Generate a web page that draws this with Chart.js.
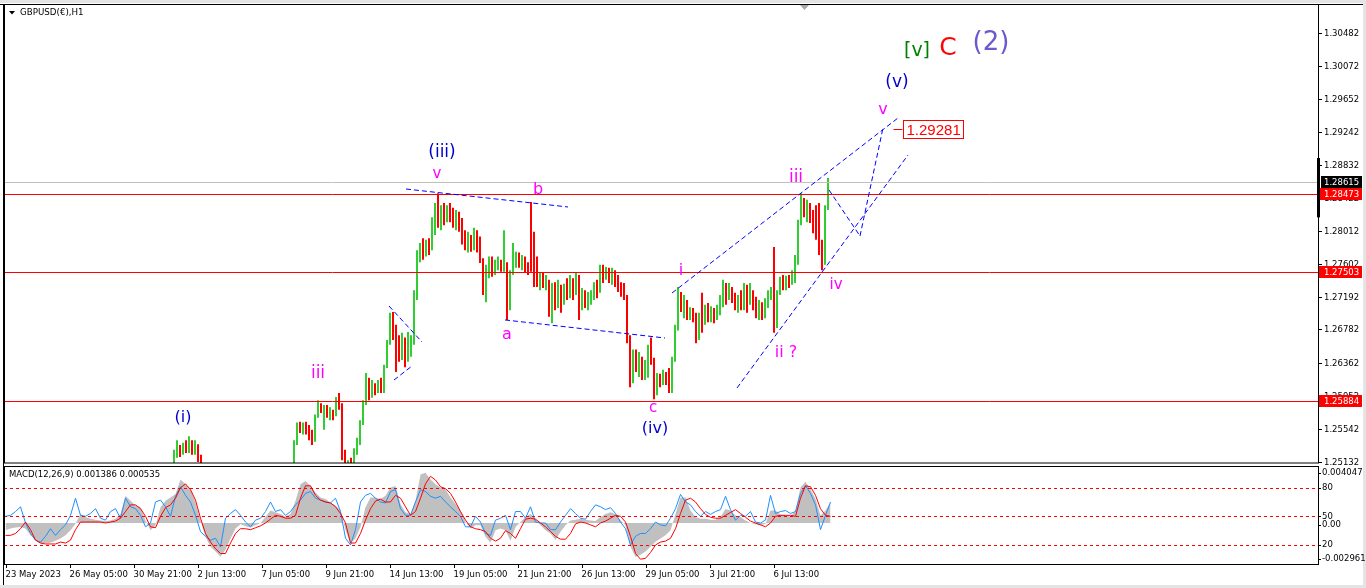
<!DOCTYPE html>
<html>
<head>
<meta charset="utf-8">
<script src="https://cdn.jsdelivr.net/npm/chart.js@4.4.0/dist/chart.umd.min.js"></script>
<style>
  html, body { margin: 0; padding: 0; background: #fff; }
  #wrap { position: relative; width: 1366px; height: 588px; overflow: hidden; }
  canvas { position: absolute; left: 0; }
  #price { top: 0; }
  #macd { top: 466px; }
</style>
</head>
<body>
<div id="wrap">
  <canvas id="price" width="1366" height="466"></canvas>
  <canvas id="macd" width="1366" height="122"></canvas>
</div>
<script>
// GBPUSD H1 - price in 3-hour groups, starting at group 56 (bar 168)
const firstGroup = 56;
const barsPerGroup = 3;
const N = null;

const highs = [
  1.2528,1.2540,1.2534,1.2537,1.2540,1.2545,1.2540,1.2540,1.2535,1.2522,
  N,N,N,N,N,N,N,N,N,N,N,N,N,N,N,N,N,N,N,N,N,N,N,N,N,N,N,N,N,N,
  1.2540,1.2562,1.2563,1.2562,1.2563,1.2559,1.2553,1.2572,1.2590,1.2586,
  1.2584,1.2584,1.2581,1.2578,1.2594,1.2599,1.2586,1.2528,1.2515,1.2518,
  1.2530,1.2543,1.2565,1.2590,1.2624,1.2618,1.2615,1.2611,1.2615,1.2618,
  1.2634,1.2665,1.2699,1.2700,1.2684,1.2671,1.2674,1.2668,1.2675,1.2671,
  1.2727,1.2777,1.2786,1.2792,1.2790,1.2792,1.2818,1.2836,1.2848,1.2833,
  1.2836,1.2833,1.2836,1.2830,1.2827,1.2825,1.2817,1.2802,1.2800,1.2796,
  1.2805,1.2802,1.2794,1.2767,1.2759,1.2769,1.2769,1.2765,1.2769,1.2765,
  1.2802,1.2762,1.2752,1.2786,1.2775,1.2774,1.2771,1.2769,1.2762,1.2837,
  1.2800,1.2769,1.2749,1.2749,1.2746,1.2740,1.2736,1.2737,1.2740,1.2734,
  1.2735,1.2742,1.2746,1.2742,1.2749,1.2746,1.2730,1.2727,1.2725,1.2727,
  1.2737,1.2740,1.2759,1.2759,1.2756,1.2755,1.2755,1.2752,1.2746,1.2737,
  1.2736,1.2721,1.2671,1.2653,1.2653,1.2650,1.2644,1.2640,1.2659,1.2668,
  1.2643,1.2624,1.2623,1.2628,1.2625,1.2630,1.2644,1.2684,1.2731,1.2725,
  1.2721,1.2715,1.2706,1.2705,1.2699,1.2699,1.2724,1.2709,1.2711,1.2707,
  1.2705,1.2709,1.2721,1.2740,1.2736,1.2736,1.2731,1.2724,1.2721,1.2727,
  1.2736,1.2734,1.2736,1.2727,1.2719,1.2715,1.2712,1.2717,1.2727,1.2731,
  1.2781,1.2727,1.2744,1.2746,1.2745,1.2746,1.2752,1.2771,1.2815,1.2848,
  1.2842,1.2840,1.2836,1.2827,1.2833,1.2836,1.2790,1.2833,1.2867
];
const lows = [
  1.2503,1.2518,1.2519,1.2522,1.2524,1.2524,1.2522,1.2522,1.2513,1.2497,
  N,N,N,N,N,N,N,N,N,N,N,N,N,N,N,N,N,N,N,N,N,N,N,N,N,N,N,N,N,N,
  1.2503,1.2534,1.2549,1.2547,1.2547,1.2540,1.2534,1.2538,1.2568,1.2574,
  1.2553,1.2568,1.2565,1.2565,1.2570,1.2578,1.2515,1.2503,1.2503,1.2503,
  1.2508,1.2522,1.2534,1.2559,1.2584,1.2590,1.2593,1.2596,1.2599,1.2599,
  1.2599,1.2630,1.2659,1.2665,1.2625,1.2638,1.2640,1.2631,1.2638,1.2644,
  1.2659,1.2715,1.2762,1.2765,1.2769,1.2771,1.2777,1.2796,1.2805,1.2802,
  1.2808,1.2812,1.2812,1.2805,1.2802,1.2800,1.2784,1.2777,1.2774,1.2775,
  1.2777,1.2774,1.2761,1.2721,1.2712,1.2742,1.2744,1.2746,1.2752,1.2750,
  1.2750,1.2690,1.2702,1.2746,1.2755,1.2755,1.2752,1.2749,1.2746,1.2750,
  1.2731,1.2731,1.2727,1.2730,1.2727,1.2694,1.2686,1.2702,1.2705,1.2699,
  1.2709,1.2715,1.2717,1.2715,1.2721,1.2690,1.2702,1.2705,1.2702,1.2709,
  1.2715,1.2717,1.2724,1.2736,1.2740,1.2736,1.2734,1.2731,1.2725,1.2719,
  1.2715,1.2661,1.2606,1.2611,1.2625,1.2619,1.2615,1.2615,1.2618,1.2634,
  1.2591,1.2596,1.2606,1.2609,1.2609,1.2599,1.2599,1.2638,1.2677,1.2700,
  1.2692,1.2690,1.2690,1.2687,1.2661,1.2665,1.2674,1.2684,1.2687,1.2687,
  1.2686,1.2690,1.2696,1.2706,1.2709,1.2715,1.2711,1.2702,1.2699,1.2702,
  1.2702,1.2699,1.2709,1.2702,1.2692,1.2690,1.2690,1.2692,1.2705,1.2715,
  1.2674,1.2680,1.2721,1.2727,1.2727,1.2730,1.2734,1.2736,1.2759,1.2808,
  1.2818,1.2812,1.2811,1.2798,1.2790,1.2771,1.2752,1.2759,1.2827
];
const opens = [
  1.2505,1.2525,1.2534,1.2525,1.2532,1.2528,1.2538,1.2530,1.2535,1.2518,
  N,N,N,N,N,N,N,N,N,N,N,N,N,N,N,N,N,N,N,N,N,N,N,N,N,N,N,N,N,N,
  1.2505,1.2534,1.2559,1.2553,1.2558,1.2550,1.2543,1.2538,1.2568,1.2586,
  1.2578,1.2581,1.2573,1.2578,1.2570,1.2590,1.2584,1.2522,1.2505,1.2513,
  1.2508,1.2528,1.2540,1.2560,1.2584,1.2613,1.2596,1.2609,1.2600,1.2610,
  1.2603,1.2630,1.2661,1.2692,1.2671,1.2653,1.2643,1.2665,1.2638,1.2659,
  1.2665,1.2721,1.2771,1.2780,1.2771,1.2784,1.2777,1.2800,1.2830,1.2812,
  1.2827,1.2817,1.2827,1.2821,1.2812,1.2821,1.2805,1.2790,1.2782,1.2792,
  1.2784,1.2798,1.2780,1.2767,1.2727,1.2746,1.2762,1.2752,1.2759,1.2765,
  1.2755,1.2762,1.2702,1.2746,1.2762,1.2770,1.2761,1.2767,1.2755,1.2759,
  1.2755,1.2740,1.2734,1.2740,1.2734,1.2737,1.2702,1.2721,1.2712,1.2727,
  1.2709,1.2727,1.2721,1.2737,1.2725,1.2740,1.2709,1.2721,1.2712,1.2717,
  1.2724,1.2730,1.2725,1.2750,1.2742,1.2752,1.2742,1.2750,1.2737,1.2734,
  1.2727,1.2720,1.2671,1.2618,1.2640,1.2634,1.2643,1.2625,1.2630,1.2653,
  1.2643,1.2603,1.2618,1.2610,1.2621,1.2615,1.2609,1.2638,1.2677,1.2725,
  1.2709,1.2715,1.2700,1.2702,1.2692,1.2671,1.2692,1.2684,1.2702,1.2692,
  1.2702,1.2692,1.2700,1.2715,1.2734,1.2721,1.2730,1.2717,1.2709,1.2715,
  1.2711,1.2730,1.2715,1.2727,1.2711,1.2702,1.2709,1.2696,1.2705,1.2721,
  1.2727,1.2684,1.2721,1.2737,1.2734,1.2740,1.2736,1.2746,1.2765,1.2808,
  1.2840,1.2825,1.2833,1.2821,1.2805,1.2796,1.2777,1.2762,1.2827
];
const closes = [
  1.2525,1.2534,1.2525,1.2532,1.2528,1.2538,1.2530,1.2535,1.2518,1.2503,
  N,N,N,N,N,N,N,N,N,N,N,N,N,N,N,N,N,N,N,N,N,N,N,N,N,N,N,N,N,N,
  1.2534,1.2559,1.2553,1.2558,1.2550,1.2543,1.2538,1.2568,1.2586,1.2578,
  1.2581,1.2573,1.2578,1.2570,1.2590,1.2584,1.2522,1.2505,1.2513,1.2508,
  1.2528,1.2540,1.2560,1.2584,1.2613,1.2596,1.2609,1.2600,1.2610,1.2603,
  1.2630,1.2661,1.2692,1.2671,1.2653,1.2643,1.2665,1.2638,1.2659,1.2665,
  1.2721,1.2771,1.2780,1.2771,1.2784,1.2777,1.2800,1.2830,1.2812,1.2827,
  1.2817,1.2827,1.2821,1.2812,1.2821,1.2805,1.2790,1.2782,1.2792,1.2784,
  1.2798,1.2780,1.2767,1.2727,1.2746,1.2762,1.2752,1.2759,1.2765,1.2755,
  1.2762,1.2702,1.2746,1.2762,1.2770,1.2761,1.2767,1.2755,1.2750,1.2755,
  1.2740,1.2734,1.2740,1.2734,1.2737,1.2702,1.2721,1.2712,1.2727,1.2709,
  1.2727,1.2721,1.2737,1.2725,1.2740,1.2709,1.2721,1.2712,1.2717,1.2724,
  1.2730,1.2725,1.2750,1.2742,1.2752,1.2742,1.2750,1.2737,1.2734,1.2727,
  1.2720,1.2671,1.2618,1.2640,1.2634,1.2643,1.2625,1.2630,1.2653,1.2643,
  1.2603,1.2618,1.2610,1.2621,1.2615,1.2609,1.2638,1.2677,1.2725,1.2709,
  1.2715,1.2700,1.2702,1.2692,1.2671,1.2692,1.2684,1.2702,1.2692,1.2702,
  1.2692,1.2700,1.2715,1.2734,1.2721,1.2730,1.2717,1.2709,1.2715,1.2711,
  1.2730,1.2715,1.2727,1.2711,1.2702,1.2709,1.2696,1.2705,1.2721,1.2727,
  1.2684,1.2721,1.2737,1.2734,1.2740,1.2736,1.2746,1.2765,1.2808,1.2840,
  1.2825,1.2833,1.2821,1.2805,1.2796,1.2777,1.2762,1.2827,1.2862
];

const priceTickLabels = ['1.30482','1.30072','1.29652','1.29242','1.28832','1.28422','1.28012',
  '1.27602','1.27192','1.26782','1.26362','1.25952','1.25542','1.25132'];
const redLevels = [1.28473, 1.27503, 1.25884];
const bidPrice = 1.28615;
const targetPrice = 1.29281;

// MACD panel, one point every 5 bars
const macdStep = 5;
const macdHist = [
  -0.00052,-0.00040,-0.00033,-0.00028,-0.00040,-0.00088,-0.00123,-0.00147,-0.00147,-0.00142,
  -0.00128,-0.00111,-0.00088,-0.00052,-0.00005,0.00066,0.00043,0.00031,0.00024,0.00019,
  0.00014,0.00019,0.00031,0.00066,0.00197,0.00161,0.00126,0.00114,0.00019,-0.00052,
  -0.00017,0.00114,0.00161,0.00185,0.00209,0.00315,0.00280,0.00244,0.00149,0.00019,
  -0.00100,-0.00171,-0.00206,-0.00242,-0.00194,-0.00111,-0.00040,-0.00009,-0.00024,-0.00033,
  -0.00017,0,0.00043,0.00090,0.00078,0.00066,0.00047,0.00066,0.00161,0.00280,
  0.00303,0.00268,0.00220,0.00185,0.00173,0.00149,0.00126,0.00090,-0.00052,-0.00147,
  -0.00111,-0.00028,0.00114,0.00185,0.00185,0.00173,0.00197,0.00256,0.00268,0.00137,
  0.00078,0.00066,0.00161,0.00351,0.00363,0.00315,0.00280,0.00256,0.00244,0.00185,
  0.00137,0.00090,0.00007,-0.00040,-0.00017,-0.00017,-0.00100,-0.00142,-0.00052,-0.00040,
  -0.00052,-0.00128,-0.00028,0.00007,0.00043,0.00066,0.00031,-0.00017,-0.00052,-0.00076,
  -0.00123,-0.00064,-0.00017,0.00019,0.00024,0.00031,0.00024,0.00019,0.00014,0.00043,
  0.00066,0.00078,0.00066,0.00019,-0.00017,-0.00171,-0.00246,-0.00230,-0.00206,-0.00171,
  -0.00135,-0.00111,-0.00088,-0.00052,0.00066,0.00185,0.00185,0.00090,0.00043,0.00031,
  0.00031,0.00024,0.00024,0.00043,0.00102,0.00090,0.00055,0.00043,0.00019,0,
  -0.00009,-0.00017,-0.00005,0.00090,0.00090,0.00062,0.00055,0.00047,0.00090,0.00256,
  0.00299,0.00244,0.00173,0.00055,0.00090,0.00149
];
const blueLine = [
  50,51,55,60,43,32,25,23,29,37, 30,36,41,51,69,51,50,53,58,48,
  46,55,58,48,69,60,58,51,39,43, 65,67,60,50,71,81,72,65,51,34,
  29,25,27,18,48,53,57,51,44,39, 46,48,55,65,55,57,51,55,62,67,
  74,76,69,67,65,64,69,55,27,20, 36,65,72,74,69,65,64,76,78,58,
  51,51,65,78,76,71,69,71,65,60, 55,50,39,39,50,44,32,30,46,48,
  51,36,55,55,48,60,44,43,43,36, 36,44,51,58,53,48,47,55,62,60,
  57,59,53,44,37,20,29,32,32,37, 44,41,40,48,58,73,65,62,55,50,
  55,52,55,57,71,57,46,51,50,55, 44,43,46,72,53,55,56,53,55,74,
  82,74,62,36,51,65
];
const redLine = [
  30,30,32,37,44,36,25,22,21,21, 21,23,22,25,36,44,44,44,44,44,
  43,44,45,48,55,62,62,58,50,39, 38,50,59,62,69,80,84,78,67,48,
  32,23,16,11,11,22,32,37,37,36, 38,40,43,47,51,50,48,48,51,69,
  82,82,72,67,65,64,60,53,43,22, 22,32,46,58,66,68,65,65,72,69,
  60,51,55,69,84,92,88,81,79,74, 65,55,46,39,37,36,34,27,24,27,
  35,32,27,37,47,48,47,43,39,34, 29,26,26,32,42,44,43,41,39,43,
  45,48,51,50,44,29,11,5,6,12, 20,23,24,27,37,53,67,69,65,58,
  52,49,48,48,51,54,57,53,49,45, 43,41,39,43,50,51,51,51,50,69,
  82,81,72,58,51,50
];
const macdLevels = [80, 50, 20];
const macdMax = 0.004047, macdMin = -0.002961;
const macdTitle = 'MACD(12,26,9) 0.001386 0.000535';

const xTickBars = [0, 64, 128, 192, 256, 320, 384, 448, 512, 576, 640, 704, 768];
const xTickLabels = ['23 May 2023','26 May 05:00','30 May 21:00','2 Jun 13:00','7 Jun 05:00',
  '9 Jun 21:00','14 Jun 13:00','19 Jun 05:00','21 Jun 21:00','26 Jun 13:00','29 Jun 05:00',
  '3 Jul 21:00','6 Jul 13:00'];

// wave count drawn on the chart (bar index, price)
const waveLabels = [
  {text: '(i)', bar: 178, price: 1.2568, color: '#0000cd', size: 16},
  {text: 'iii', bar: 313, price: 1.2623, color: '#ff00ff', size: 17},
  {text: '(iii)', bar: 437, price: 1.2899, color: '#0000cd', size: 17},
  {text: 'v', bar: 432, price: 1.2872, color: '#ff00ff', size: 15},
  {text: 'b', bar: 533, price: 1.2852, color: '#ff00ff', size: 16},
  {text: 'a', bar: 502, price: 1.2672, color: '#ff00ff', size: 16},
  {text: 'i', bar: 676, price: 1.2751, color: '#ff00ff', size: 16},
  {text: 'iii', bar: 791, price: 1.2868, color: '#ff00ff', size: 17},
  {text: 'iv', bar: 831, price: 1.2734, color: '#ff00ff', size: 15},
  {text: 'ii ?', bar: 781, price: 1.2649, color: '#ff00ff', size: 16},
  {text: 'c', bar: 648, price: 1.2580, color: '#ff00ff', size: 15},
  {text: '(iv)', bar: 650, price: 1.2554, color: '#0000cd', size: 16},
  {text: 'v', bar: 878, price: 1.2952, color: '#ff00ff', size: 16},
  {text: '(v)', bar: 892, price: 1.2986, color: '#0000cd', size: 17},
  {text: '[v]', bar: 912, price: 1.3025, color: '#008000', size: 19},
  {text: 'C', bar: 943, price: 1.3029, color: '#ff0000', size: 25},
  {text: '(2)', bar: 986, price: 1.3035, color: '#6a5acd', size: 26}
];
const waveLines = [
  [401, 1.28533, 563, 1.28309],
  [500, 1.26900, 660, 1.26675],
  [384, 1.27074, 417, 1.26625],
  [389, 1.26151, 407, 1.26326],
  [667, 1.27236, 893, 1.29419],
  [732, 1.26052, 903, 1.28957],
  [824, 1.28521, 855, 1.27947],
  [855, 1.27947, 878, 1.29294]
];
const targetBar = 898;

const FONT = '"DejaVu Sans", sans-serif';
const GREEN = '#32cd32';
const RED = '#ff0000';

function hline(ctx, x1, x2, y) {
  ctx.beginPath();
  ctx.moveTo(x1, Math.round(y) + 0.5);
  ctx.lineTo(x2, Math.round(y) + 0.5);
  ctx.stroke();
}

const priceOverlay = {
  id: 'priceOverlay',
  beforeDraw(chart) {
    const ctx = chart.ctx;
    ctx.save();
    ctx.fillStyle = '#fff';
    ctx.fillRect(0, 0, chart.width, chart.height);
    ctx.fillStyle = '#e4e4e4';
    ctx.fillRect(0, 0, chart.width, 3);
    ctx.fillRect(1363, 0, 3, chart.height);
    ctx.restore();
  },
  afterDatasetsDraw(chart) {
    const {ctx, chartArea: a, scales: {x, y}} = chart;
    ctx.save();

    // bid line and horizontal levels
    ctx.lineWidth = 1;
    ctx.strokeStyle = '#c0c0c0';
    hline(ctx, a.left, a.right, y.getPixelForValue(bidPrice));
    ctx.strokeStyle = RED;
    redLevels.forEach(p => hline(ctx, a.left, a.right, y.getPixelForValue(p)));

    // wave lines
    ctx.save();
    ctx.beginPath();
    ctx.rect(a.left, a.top, a.right - a.left, a.bottom - a.top);
    ctx.clip();
    ctx.strokeStyle = '#0000ff';
    ctx.setLineDash([5, 3]);
    waveLines.forEach(l => {
      ctx.beginPath();
      ctx.moveTo(x.getPixelForValue(l[0]), y.getPixelForValue(l[1]));
      ctx.lineTo(x.getPixelForValue(l[2]), y.getPixelForValue(l[3]));
      ctx.stroke();
    });
    ctx.restore();

    // wave labels
    ctx.textAlign = 'center';
    ctx.textBaseline = 'middle';
    waveLabels.forEach(w => {
      ctx.font = w.size + 'px ' + FONT;
      ctx.fillStyle = w.color;
      ctx.fillText(w.text, x.getPixelForValue(w.bar), y.getPixelForValue(w.price));
    });

    // target box
    const ty = Math.round(y.getPixelForValue(targetPrice)) + 0.5;
    const tx = Math.round(x.getPixelForValue(targetBar)) + 0.5;
    ctx.strokeStyle = RED;
    ctx.beginPath();
    ctx.moveTo(tx - 10, ty);
    ctx.lineTo(tx - 1, ty);
    ctx.stroke();
    ctx.font = '15px "Liberation Sans", sans-serif';
    const tw = ctx.measureText(targetPrice.toFixed(5)).width;
    ctx.strokeRect(tx, ty - 9, Math.round(tw) + 6, 18);
    ctx.fillStyle = RED;
    ctx.textAlign = 'left';
    ctx.fillText(targetPrice.toFixed(5), tx + 3, ty + 1);

    // frame
    ctx.strokeStyle = '#000';
    ctx.strokeRect(a.left + 0.5, a.top - 0.5, a.right - a.left, a.bottom - a.top + 0.5);
    ctx.beginPath();
    ctx.moveTo(0, 4.5);
    ctx.lineTo(1363, 4.5);
    ctx.moveTo(3.5, 4);
    ctx.lineTo(3.5, chart.height);
    ctx.stroke();

    // chart shift marker
    ctx.fillStyle = '#a8a8a8';
    ctx.beginPath();
    ctx.moveTo(800, 5); ctx.lineTo(809, 5); ctx.lineTo(804.5, 10);
    ctx.fill();

    // title
    ctx.fillStyle = '#000';
    ctx.beginPath();
    ctx.moveTo(9, 11); ctx.lineTo(15, 11); ctx.lineTo(12, 14.5);
    ctx.fill();
    ctx.font = '8.7px ' + FONT;
    ctx.textBaseline = 'middle';
    ctx.fillText('GBPUSD(\u20ac),H1', 20, 13);

    // right axis
    ctx.font = '8.5px ' + FONT;
    priceTickLabels.forEach(t => {
      const py = Math.round(y.getPixelForValue(parseFloat(t))) + 0.5;
      ctx.strokeStyle = '#000';
      ctx.beginPath();
      ctx.moveTo(a.right, py);
      ctx.lineTo(a.right + 4, py);
      ctx.stroke();
      ctx.fillStyle = '#000';
      ctx.fillText(t, a.right + 6, py);
    });
    const box = (p, bg, x0) => {
      const py = Math.round(y.getPixelForValue(p));
      ctx.fillStyle = bg;
      ctx.fillRect(x0, py - 6, 1362 - x0, 12);
      ctx.fillStyle = '#fff';
      ctx.fillText(p.toFixed(5), a.right + 6, py + 0.5);
    };
    redLevels.forEach(p => box(p, RED, a.right + 1));
    box(bidPrice, '#000', a.right + 3);

    // scale bar on the price axis
    const b1 = y.getPixelForValue(1.2892), b2 = y.getPixelForValue(1.2818);
    ctx.fillStyle = '#000';
    ctx.fillRect(a.right - 1, b1, 3, b2 - b1);

    ctx.restore();
  }
};

const candles = [];
const candleColors = [];
highs.forEach((h, k) => {
  if (h === null) return;
  candles.push({x: (firstGroup + k) * barsPerGroup + 1, y: [lows[k], h]});
  candleColors.push(closes[k] >= opens[k] ? GREEN : RED);
});

new Chart(document.getElementById('price'), {
  type: 'bar',
  data: {
    datasets: [{
      data: candles,
      backgroundColor: candleColors,
      borderWidth: 0,
      barThickness: 2,
      inflateAmount: 0,
      borderSkipped: false
    }]
  },
  options: {
    responsive: false,
    animation: false,
    devicePixelRatio: 1,
    layout: {padding: {left: 4, right: 48, top: 5, bottom: 3}},
    plugins: {legend: {display: false}, tooltip: {enabled: false}},
    scales: {
      x: {type: 'linear', min: -1, max: 1313, offset: false, display: false},
      y: {min: 1.25116, max: 1.30828, display: false}
    }
  },
  plugins: [priceOverlay]
});

const macdOverlay = {
  id: 'macdOverlay',
  beforeDraw(chart) {
    const ctx = chart.ctx;
    ctx.save();
    ctx.fillStyle = '#fff';
    ctx.fillRect(0, 0, chart.width, chart.height);
    ctx.fillStyle = '#e4e4e4';
    ctx.fillRect(1363, 0, 3, chart.height);
    ctx.fillRect(0, 119, chart.width, 3);
    ctx.restore();
  },
  afterDatasetsDraw(chart) {
    const {ctx, chartArea: a, scales: {x, yS, yM}} = chart;
    ctx.save();
    ctx.lineWidth = 1;
    ctx.strokeStyle = RED;
    ctx.setLineDash([3, 3]);
    macdLevels.forEach(v => hline(ctx, a.left, a.right, yS.getPixelForValue(v)));
    ctx.setLineDash([]);

    ctx.strokeStyle = '#000';
    ctx.strokeRect(a.left + 0.5, a.top - 0.5, a.right - a.left, a.bottom - a.top + 1);
    ctx.beginPath();
    ctx.moveTo(3.5, 0);
    ctx.lineTo(3.5, 119);
    ctx.stroke();

    ctx.fillStyle = '#000';
    ctx.font = '8.5px ' + FONT;
    ctx.textBaseline = 'middle';
    ctx.textAlign = 'left';
    ctx.fillText(macdTitle, 9, 9);

    // right labels
    const rx = a.right + 4;
    const lab = (t, py) => {
      ctx.beginPath();
      ctx.moveTo(a.right, Math.round(py) + 0.5);
      ctx.lineTo(a.right + 3, Math.round(py) + 0.5);
      ctx.stroke();
      ctx.fillText(t, rx, py);
    };
    lab(macdMax.toFixed(6), yM.getPixelForValue(macdMax) + 6);
    macdLevels.forEach(v => lab(String(v), yS.getPixelForValue(v)));
    lab('0.00', yM.getPixelForValue(0) + 2);
    lab(macdMin.toFixed(6), yM.getPixelForValue(macdMin) - 5);

    // time axis
    xTickBars.forEach((b, i) => {
      const px = Math.round(x.getPixelForValue(b)) + 0.5;
      ctx.beginPath();
      ctx.moveTo(px, a.bottom);
      ctx.lineTo(px, a.bottom + 4);
      ctx.stroke();
      ctx.fillText(xTickLabels[i], px - 1, 109);
    });
    ctx.restore();
  }
};

const toPoints = arr => arr.map((v, k) => ({x: k * macdStep, y: v}));

new Chart(document.getElementById('macd'), {
  type: 'line',
  data: {
    datasets: [
      {data: toPoints(redLine), yAxisID: 'yS', borderColor: RED, borderWidth: 1, pointRadius: 0, order: 0},
      {data: toPoints(blueLine), yAxisID: 'yS', borderColor: '#1e90ff', borderWidth: 1, pointRadius: 0, order: 1},
      {data: toPoints(macdHist), yAxisID: 'yM', borderWidth: 0, borderColor: 'rgba(0,0,0,0)',
        backgroundColor: '#c0c0c0', fill: {value: 0}, pointRadius: 0, order: 2}
    ]
  },
  options: {
    responsive: false,
    animation: false,
    devicePixelRatio: 1,
    layout: {padding: {left: 4, right: 48, top: 1, bottom: 24}},
    plugins: {legend: {display: false}, tooltip: {enabled: false}},
    scales: {
      x: {type: 'linear', min: -1.5, max: 1312.5, display: false},
      yS: {min: 0, max: 101.7, display: false},
      yM: {min: macdMin, max: macdMax, display: false}
    }
  },
  plugins: [macdOverlay]
});
</script>
</body>
</html>
